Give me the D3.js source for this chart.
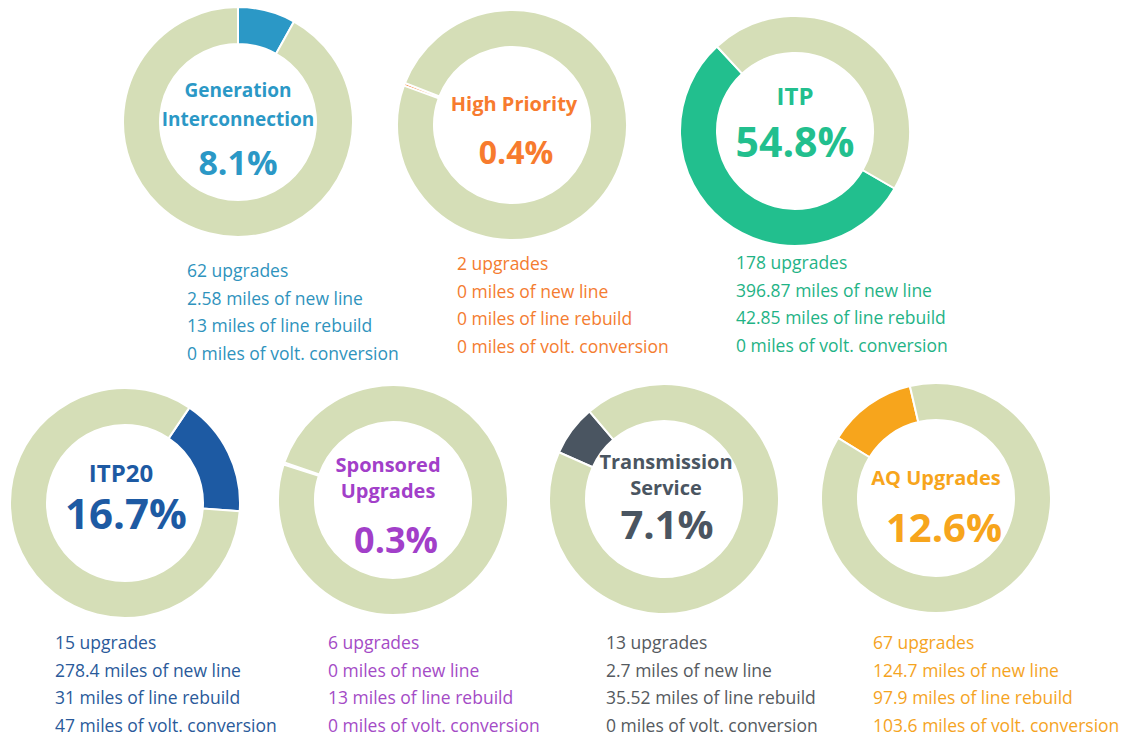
<!DOCTYPE html>
<html>
<head>
<meta charset="utf-8">
<script src="https://cdn.jsdelivr.net/npm/d3@7"></script>
<style>
  html, body { margin: 0; padding: 0; background: #fff; }
  svg { display: block; }
</style>
</head>
<body>
<div id="vis"></div>
<script>
// Upgrade portfolio: one doughnut per category, share of total + mileage notes.

const NAMES    = [["Generation", "Interconnection"], ["High Priority"], ["ITP"], ["ITP20"],
                  ["Sponsored", "Upgrades"], ["Transmission", "Service"], ["AQ Upgrades"]];
const SHARES   = [8.1, 0.4, 54.8, 16.7, 0.3, 7.1, 12.6];
const UPGRADES = [62, 2, 178, 15, 6, 13, 67];
const NEW_LINE = [2.58, 0, 396.87, 278.4, 0, 2.7, 124.7];
const REBUILD  = [13, 0, 42.85, 31, 13, 35.52, 97.9];
const VOLT     = [0, 0, 0, 47, 0, 0, 103.6];

const COLORS   = ["#2b98c6", "#f77b2e", "#22bf8e", "#1d5aa3", "#a23fc9", "#4a5561", "#f7a51c"];
const NOTE_COL = ["#2f93bd", "#f47c30", "#1fb386", "#2a5a9a", "#a44bc6", "#555a60", "#f5a41f"];
const REST     = "#d5deb7";

// layout per doughnut: centre, rotation of coloured slice (deg), label baselines, note origin
const LAYOUT = [
  { cx: 238, cy: 122, rot: 0,     tx: 238, tY: [97, 126],  tS: 19, px: 238, pY: 175, pS: 34, nx: 187, nY: 277 },
  { cx: 512, cy: 125, rot: 290,   tx: 514, tY: [111],      tS: 20, px: 516, pY: 164, pS: 32, nx: 457, nY: 270 },
  { cx: 795, cy: 131, rot: 120,   tx: 795, tY: [105],      tS: 24, px: 795, pY: 157, pS: 41, nx: 736, nY: 269 },
  { cx: 125, cy: 503, rot: 34,    tx: 121, tY: [482],      tS: 24, px: 126, pY: 529, pS: 42, nx: 55,  nY: 649 },
  { cx: 393, cy: 500, rot: 288,   tx: 388, tY: [472, 498], tS: 20, px: 396, pY: 553, pS: 36, nx: 328, nY: 649 },
  { cx: 664, cy: 499, rot: 294,   tx: 666, tY: [469, 495], tS: 20, px: 667, pY: 539, pS: 40, nx: 606, nY: 649 },
  { cx: 936, cy: 498, rot: 301.5, tx: 936, tY: [485],      tS: 20, px: 944, pY: 542, pS: 40, nx: 873, nY: 649 },
];

const R_OUT = 115;
const R_IN  = 78;
const LINE_STEP = 27.5;

const W = 1124, H = 738;
const svg = d3.select("#vis").append("svg").attr("width", W).attr("height", H);

const arc = d3.arc().innerRadius(R_IN).outerRadius(R_OUT);
const rad = d => d * Math.PI / 180;

SHARES.forEach((share, i) => {
  const L = LAYOUT[i];
  const pie = d3.pie().sort(null)
    .startAngle(rad(L.rot))
    .endAngle(rad(L.rot) + 2 * Math.PI);

  const g = svg.append("g").attr("transform", `translate(${L.cx},${L.cy})`);

  g.selectAll("path")
    .data(pie([share, 100 - share]))
    .join("path")
      .attr("d", arc)
      .attr("fill", (d, j) => j === 0 ? COLORS[i] : REST)
      .attr("stroke", "#fff")
      .attr("stroke-width", 2);

  // name + share inside the ring
  NAMES[i].forEach((line, k) => {
    svg.append("text")
      .attr("x", L.tx).attr("y", L.tY[k])
      .attr("text-anchor", "middle")
      .style("font-family", "'Open Sans', 'Noto Sans', sans-serif")
      .style("font-weight", 700)
      .style("font-size", L.tS + "px")
      .style("fill", COLORS[i])
      .text(line);
  });

  svg.append("text")
    .attr("x", L.px).attr("y", L.pY)
    .attr("text-anchor", "middle")
    .style("font-family", "'Open Sans', 'Noto Sans', sans-serif")
    .style("font-weight", 700)
    .style("font-size", L.pS + "px")
    .style("fill", COLORS[i])
    .text(share + "%");

  // notes below
  const notes = [
    `${UPGRADES[i]} upgrades`,
    `${NEW_LINE[i]} miles of new line`,
    `${REBUILD[i]} miles of line rebuild`,
    `${VOLT[i]} miles of volt. conversion`,
  ];
  notes.forEach((t, k) => {
    svg.append("text")
      .attr("x", L.nx).attr("y", L.nY + k * LINE_STEP)
      .style("font-family", "'Open Sans', 'Noto Sans', sans-serif")
      .style("font-size", "17.5px")
      .style("fill", NOTE_COL[i])
      .text(t);
  });
});
</script>
</body>
</html>
